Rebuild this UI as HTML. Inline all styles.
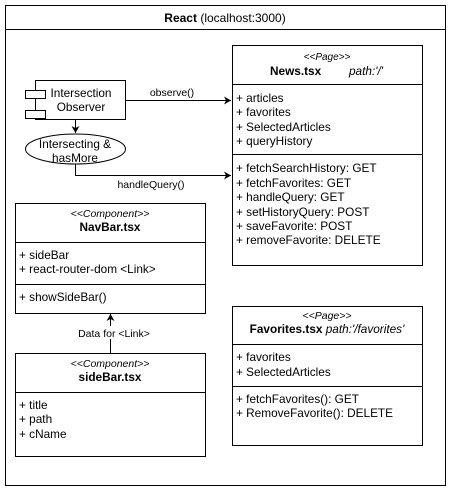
<!DOCTYPE html>
<html><head><style>
html,body{margin:0;padding:0;background:#fff;}
svg{display:block;font-family:"Liberation Sans",Arial,sans-serif;font-size:11.8px;}
</style></head><body>
<svg width="452" height="492" viewBox="0 0 452 492" xmlns="http://www.w3.org/2000/svg">
<defs><marker id="a" markerWidth="8" markerHeight="8" refX="7" refY="4" orient="auto" markerUnits="userSpaceOnUse"><path d="M0,0 L7,4 L0,8 L2,4 Z" fill="#000"/></marker></defs>
<g fill="none" stroke="#000" stroke-width="1">
<rect x="5.5" y="5.5" width="440" height="480"/>
<line x1="5.5" y1="29.5" x2="445.5" y2="29.5"/>
<rect x="232.5" y="45.5" width="190" height="220"/>
<line x1="232.5" y1="84.5" x2="422.5" y2="84.5"/>
<line x1="232.5" y1="154.5" x2="422.5" y2="154.5"/>
<rect x="35.5" y="80.5" width="90" height="39"/>
<rect x="25.5" y="90.5" width="20" height="8" fill="#fff"/>
<rect x="25.5" y="110.5" width="20" height="8" fill="#fff"/>
<line x1="125.5" y1="100.5" x2="231" y2="100.5" marker-end="url(#a)"/>
<line x1="75.5" y1="120" x2="75.5" y2="133" marker-end="url(#a)"/>
<ellipse cx="75.5" cy="149" rx="50" ry="15"/>
<polyline points="75.5,164 75.5,175.5 231,175.5" marker-end="url(#a)"/>
<rect x="15.5" y="203.5" width="190" height="110"/>
<line x1="15.5" y1="242.5" x2="205.5" y2="242.5"/>
<line x1="15.5" y1="284.5" x2="205.5" y2="284.5"/>
<rect x="15.5" y="353.5" width="190" height="103"/>
<line x1="15.5" y1="392.5" x2="205.5" y2="392.5"/>
<line x1="110.5" y1="353" x2="110.5" y2="314" marker-end="url(#a)"/>
<rect x="232.5" y="306.5" width="190" height="139"/>
<line x1="232.5" y1="344.5" x2="422.5" y2="344.5"/>
<line x1="232.5" y1="386.5" x2="422.5" y2="386.5"/>
</g>
<rect x="72" y="326" width="84" height="13" fill="#fff"/>
<g fill="#000">
<text x="225" y="22" text-anchor="middle" font-size="12"><tspan font-weight="bold">React</tspan> (localhost:3000)</text>
<text x="327" y="60" text-anchor="middle" font-style="italic" font-size="10">&lt;&lt;Page&gt;&gt;</text>
<text x="270" y="75" font-weight="bold">News.tsx</text>
<text x="349" y="75" font-style="italic">path:'/'</text>
<text x="236" y="102">+ articles</text>
<text x="236" y="116">+ favorites</text>
<text x="236" y="131">+ SelectedArticles</text>
<text x="236" y="145">+ queryHistory</text>
<text x="236" y="172">+ fetchSearchHistory: GET</text>
<text x="236" y="187">+ fetchFavorites: GET</text>
<text x="236" y="201">+ handleQuery: GET</text>
<text x="236" y="216">+ setHistoryQuery: POST</text>
<text x="236" y="230">+ saveFavorite: POST</text>
<text x="236" y="244">+ removeFavorite: DELETE</text>
<text x="81" y="97" text-anchor="middle">Intersection</text>
<text x="81" y="111" text-anchor="middle">Observer</text>
<text x="75" y="148" text-anchor="middle">Intersecting &amp;</text>
<text x="75" y="162" text-anchor="middle">hasMore</text>
<text x="172" y="96" text-anchor="middle" font-size="10.5">observe()</text>
<text x="151" y="188" text-anchor="middle" font-size="10.5">handleQuery()</text>
<text x="110" y="217" text-anchor="middle" font-style="italic" font-size="10.5">&lt;&lt;Component&gt;&gt;</text>
<text x="110" y="231" text-anchor="middle" font-weight="bold">NavBar.tsx</text>
<text x="19" y="259">+ sideBar</text>
<text x="19" y="273">+ react-router-dom &lt;Link&gt;</text>
<text x="19" y="301">+ showSideBar()</text>
<text x="114" y="337" text-anchor="middle" font-size="10.5">Data for &lt;Link&gt;</text>
<text x="110" y="367" text-anchor="middle" font-style="italic" font-size="10.5">&lt;&lt;Component&gt;&gt;</text>
<text x="110" y="381" text-anchor="middle" font-weight="bold">sideBar.tsx</text>
<text x="19" y="409">+ title</text>
<text x="19" y="423">+ path</text>
<text x="19" y="438">+ cName</text>
<text x="327" y="319" text-anchor="middle" font-style="italic" font-size="10.5">&lt;&lt;Page&gt;&gt;</text>
<text x="327" y="333" text-anchor="middle"><tspan font-weight="bold">Favorites.tsx</tspan><tspan font-style="italic">  path:'/favorites'</tspan></text>
<text x="236" y="361">+ favorites</text>
<text x="236" y="376">+ SelectedArticles</text>
<text x="236" y="403">+ fetchFavorites(): GET</text>
<text x="236" y="417">+ RemoveFavorite(): DELETE</text>
</g>
</svg>
</body></html>
